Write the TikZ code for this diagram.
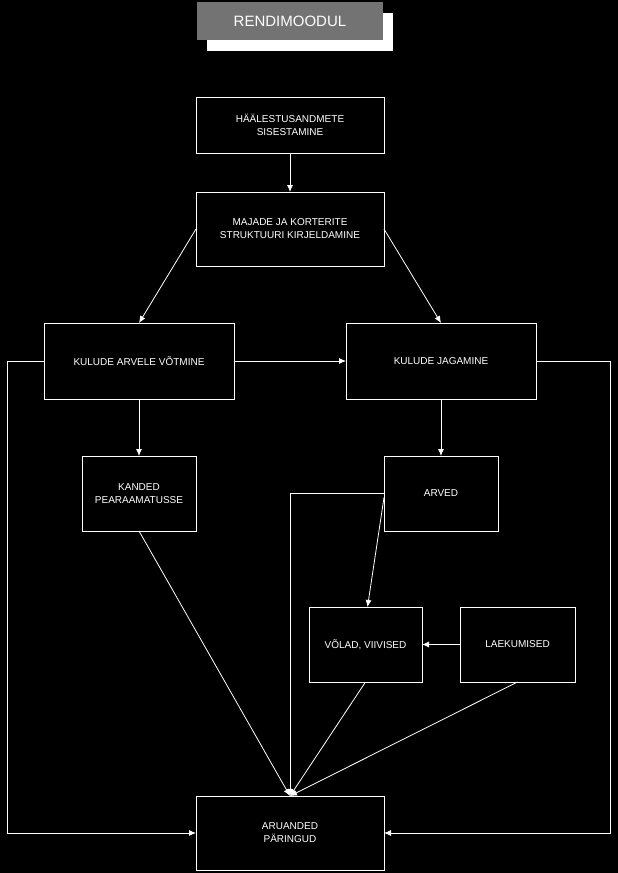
\documentclass[tikz,border=0pt]{standalone}
\usepackage{fontspec}
\setmainfont{Liberation Sans}
\usepackage{tikz}
\usetikzlibrary{shapes, arrows.meta, positioning, shadows}
\tikzstyle{block} = [draw=white, rectangle, inner sep=0pt, outer sep=0pt, align=center, text=white, font=\fontsize{10}{13}\selectfont]
\tikzstyle{wide} = [block, minimum width=188pt]
\tikzstyle{small} = [block, minimum width=114pt, minimum height=75pt]

\begin{document}
\begin{tikzpicture}[x=1pt,y=-1pt,>={Latex[length=7pt,width=6pt]},line width=0.8pt]
    \fill[black] (0,0) rectangle (618,873);
    \useasboundingbox (0,0) rectangle (618,873);
    % title
    \node [rectangle, fill=black!55, minimum width=186pt, minimum height=38pt, text=white,
        font=\fontsize{15}{18}\selectfont,
        drop shadow={shadow xshift=10pt, shadow yshift=-11pt, fill=white, opacity=1}] (title) at (290,21) {RENDIMOODUL};
    % blocks
    \node [wide, minimum height=56pt] (seade) at (290,125) {HÄÄLESTUSANDMETE\\SISESTAMINE};
    \node [wide, minimum height=74pt] (struktuur) at (290,229) {MAJADE JA KORTERITE\\STRUKTUURI KIRJELDAMINE};
    \node [block, minimum width=190pt, minimum height=76pt] (arvele) at (139,361) {KULUDE ARVELE VÕTMINE};
    \node [block, minimum width=190pt, minimum height=76pt] (jagamine) at (441,361) {KULUDE JAGAMINE};
    \node [small] (kanded) at (139,493.5) {KANDED\\PEARAAMATUSSE};
    \node [small] (arved) at (441,493.5) {ARVED};
    \node [small, minimum width=113pt] (volad) at (365.5,644.5) {VÕLAD, VIIVISED};
    \node [small, minimum width=115pt] (laekumised) at (517.5,644.5) {LAEKUMISED};
    \node [wide, minimum height=74pt] (aruanded) at (290,833) {ARUANDED\\PÄRINGUD};
    % connectors
    \begin{scope}[draw=white, fill=white]
    \draw [->] (seade) -- (struktuur);
    \draw [->] (struktuur.west) -- (arvele.north);
    \draw [->] (struktuur.east) -- (jagamine.north);
    \draw [->] (arvele) -- (jagamine);
    \draw [->] (arvele) -- (kanded);
    \draw [->] (jagamine) -- (arved);
    \draw [->] (arvele.west) -- ++(-37,0) |- (aruanded.west);
    \draw [->] (jagamine.east) -- ++(74,0) |- (aruanded.east);
    \draw [->] (arved.west) -| (aruanded.north);
    \draw [->] ([yshift=-4pt]arved.west) -- ([xshift=2pt]volad.north);
    \draw [->] (laekumised) -- (volad);
    \draw [->] (kanded.south) -- (aruanded.north);
    \draw [->] (volad.south) -- (aruanded.north);
    \draw [->] (laekumised.south) -- (aruanded.north);
    \end{scope}
\end{tikzpicture}
\end{document}
